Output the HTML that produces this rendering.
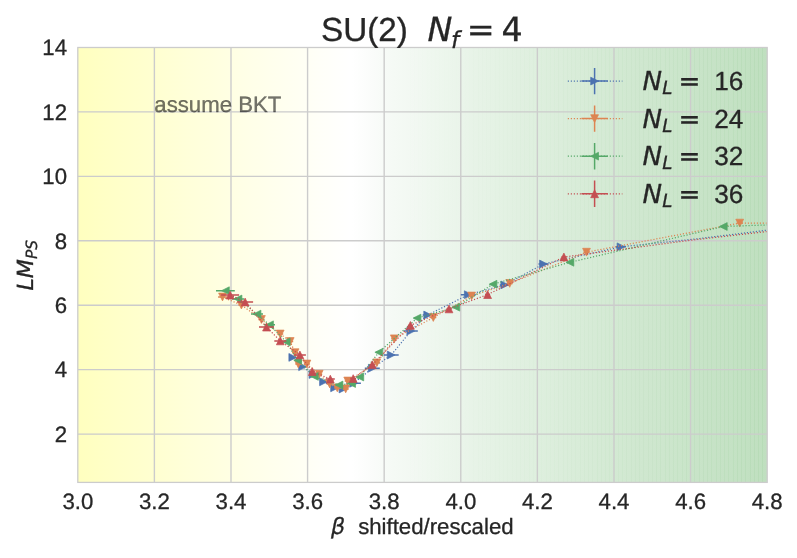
<!DOCTYPE html>
<html lang="en"><head><meta charset="utf-8"><title>SU(2) Nf=4</title>
<style>html,body{margin:0;padding:0;background:#fff}body{width:797px;height:558px;overflow:hidden}svg{display:block;text-rendering:geometricPrecision;will-change:transform}text{stroke:#262626;stroke-width:.3px}.a{font-family:"Liberation Sans",Arial,sans-serif;fill:#262626}.m{font-family:"DejaVu Sans",sans-serif;fill:#262626}.i{font-family:"DejaVu Sans",sans-serif;font-style:italic;fill:#262626}</style></head><body>
<svg width="797" height="558" viewBox="0 0 797 558">
<defs>
<linearGradient id="bg" x1="0" y1="0" x2="1" y2="0"><stop offset="0.00%" stop-color="#ffffbf"/><stop offset="3.95%" stop-color="#ffffc6"/><stop offset="7.90%" stop-color="#ffffcc"/><stop offset="11.85%" stop-color="#ffffd2"/><stop offset="15.79%" stop-color="#ffffd9"/><stop offset="19.74%" stop-color="#ffffdf"/><stop offset="23.69%" stop-color="#ffffe6"/><stop offset="27.64%" stop-color="#ffffec"/><stop offset="31.59%" stop-color="#fffff2"/><stop offset="35.54%" stop-color="#fffff9"/><stop offset="39.49%" stop-color="#ffffff"/><stop offset="39.78%" stop-color="#ffffff"/><stop offset="42.79%" stop-color="#fafcfa"/><stop offset="45.80%" stop-color="#f5faf5"/><stop offset="48.81%" stop-color="#f2f8f2"/><stop offset="51.82%" stop-color="#eef7ee"/><stop offset="54.83%" stop-color="#ebf5eb"/><stop offset="57.84%" stop-color="#e7f3e7"/><stop offset="60.85%" stop-color="#e4f2e4"/><stop offset="63.87%" stop-color="#e1f0e1"/><stop offset="66.88%" stop-color="#deefde"/><stop offset="69.89%" stop-color="#dbeddb"/><stop offset="72.90%" stop-color="#d8ecd8"/><stop offset="75.91%" stop-color="#d5ead5"/><stop offset="78.92%" stop-color="#d2e9d2"/><stop offset="81.93%" stop-color="#cfe7cf"/><stop offset="84.94%" stop-color="#cde6cd"/><stop offset="87.96%" stop-color="#cae5ca"/><stop offset="90.97%" stop-color="#c7e3c7"/><stop offset="93.98%" stop-color="#c5e2c5"/><stop offset="96.99%" stop-color="#c2e1c2"/><stop offset="100.00%" stop-color="#bfdfbf"/></linearGradient>
<clipPath id="cp"><rect x="77.8" y="47.5" width="689.4" height="434.9"/></clipPath>
</defs>
<rect x="0" y="0" width="797" height="558" fill="#ffffff"/>
<rect x="77.8" y="47.5" width="689.4" height="434.9" fill="url(#bg)"/>
<rect x="762" y="47.5" width="1" height="434.9" fill="#008000" fill-opacity="0.042"/>
<rect x="758" y="47.5" width="1" height="434.9" fill="#008000" fill-opacity="0.041"/>
<rect x="754" y="47.5" width="1" height="434.9" fill="#008000" fill-opacity="0.040"/>
<rect x="750" y="47.5" width="1" height="434.9" fill="#008000" fill-opacity="0.040"/>
<rect x="745" y="47.5" width="1" height="434.9" fill="#008000" fill-opacity="0.039"/>
<rect x="741" y="47.5" width="1" height="434.9" fill="#008000" fill-opacity="0.038"/>
<rect x="737" y="47.5" width="1" height="434.9" fill="#008000" fill-opacity="0.038"/>
<rect x="733" y="47.5" width="1" height="434.9" fill="#008000" fill-opacity="0.037"/>
<rect x="728" y="47.5" width="1" height="434.9" fill="#008000" fill-opacity="0.036"/>
<rect x="724" y="47.5" width="1" height="434.9" fill="#008000" fill-opacity="0.036"/>
<rect x="720" y="47.5" width="1" height="434.9" fill="#008000" fill-opacity="0.035"/>
<rect x="716" y="47.5" width="1" height="434.9" fill="#008000" fill-opacity="0.034"/>
<rect x="711" y="47.5" width="1" height="434.9" fill="#008000" fill-opacity="0.034"/>
<rect x="707" y="47.5" width="1" height="434.9" fill="#008000" fill-opacity="0.033"/>
<rect x="703" y="47.5" width="1" height="434.9" fill="#008000" fill-opacity="0.032"/>
<rect x="699" y="47.5" width="1" height="434.9" fill="#008000" fill-opacity="0.032"/>
<rect x="694" y="47.5" width="1" height="434.9" fill="#008000" fill-opacity="0.031"/>
<rect x="690" y="47.5" width="1" height="434.9" fill="#008000" fill-opacity="0.030"/>
<rect x="686" y="47.5" width="1" height="434.9" fill="#008000" fill-opacity="0.030"/>
<rect x="682" y="47.5" width="1" height="434.9" fill="#008000" fill-opacity="0.029"/>
<rect x="677" y="47.5" width="1" height="434.9" fill="#008000" fill-opacity="0.029"/>
<rect x="673" y="47.5" width="1" height="434.9" fill="#008000" fill-opacity="0.028"/>
<rect x="669" y="47.5" width="1" height="434.9" fill="#008000" fill-opacity="0.027"/>
<rect x="665" y="47.5" width="1" height="434.9" fill="#008000" fill-opacity="0.027"/>
<rect x="660" y="47.5" width="1" height="434.9" fill="#008000" fill-opacity="0.026"/>
<rect x="656" y="47.5" width="1" height="434.9" fill="#008000" fill-opacity="0.026"/>
<rect x="652" y="47.5" width="1" height="434.9" fill="#008000" fill-opacity="0.025"/>
<rect x="648" y="47.5" width="1" height="434.9" fill="#008000" fill-opacity="0.024"/>
<rect x="643" y="47.5" width="1" height="434.9" fill="#008000" fill-opacity="0.024"/>
<rect x="639" y="47.5" width="1" height="434.9" fill="#008000" fill-opacity="0.023"/>
<rect x="635" y="47.5" width="1" height="434.9" fill="#008000" fill-opacity="0.023"/>
<rect x="631" y="47.5" width="1" height="434.9" fill="#008000" fill-opacity="0.022"/>
<rect x="626" y="47.5" width="1" height="434.9" fill="#008000" fill-opacity="0.022"/>
<rect x="622" y="47.5" width="1" height="434.9" fill="#008000" fill-opacity="0.021"/>
<rect x="618" y="47.5" width="1" height="434.9" fill="#008000" fill-opacity="0.021"/>
<rect x="614" y="47.5" width="1" height="434.9" fill="#008000" fill-opacity="0.020"/>
<rect x="609" y="47.5" width="1" height="434.9" fill="#008000" fill-opacity="0.019"/>
<rect x="605" y="47.5" width="1" height="434.9" fill="#008000" fill-opacity="0.019"/>
<rect x="601" y="47.5" width="1" height="434.9" fill="#008000" fill-opacity="0.018"/>
<rect x="597" y="47.5" width="1" height="434.9" fill="#008000" fill-opacity="0.018"/>
<rect x="592" y="47.5" width="1" height="434.9" fill="#008000" fill-opacity="0.017"/>
<rect x="588" y="47.5" width="1" height="434.9" fill="#008000" fill-opacity="0.017"/>
<rect x="584" y="47.5" width="1" height="434.9" fill="#008000" fill-opacity="0.016"/>
<rect x="580" y="47.5" width="1" height="434.9" fill="#008000" fill-opacity="0.016"/>
<rect x="575" y="47.5" width="1" height="434.9" fill="#008000" fill-opacity="0.015"/>
<rect x="571" y="47.5" width="1" height="434.9" fill="#008000" fill-opacity="0.015"/>
<rect x="567" y="47.5" width="1" height="434.9" fill="#008000" fill-opacity="0.014"/>
<rect x="563" y="47.5" width="1" height="434.9" fill="#008000" fill-opacity="0.014"/>
<rect x="558" y="47.5" width="1" height="434.9" fill="#008000" fill-opacity="0.014"/>
<rect x="554" y="47.5" width="1" height="434.9" fill="#008000" fill-opacity="0.013"/>
<rect x="550" y="47.5" width="1" height="434.9" fill="#008000" fill-opacity="0.013"/>
<rect x="546" y="47.5" width="1" height="434.9" fill="#008000" fill-opacity="0.012"/>
<rect x="541" y="47.5" width="1" height="434.9" fill="#008000" fill-opacity="0.012"/>
<rect x="537" y="47.5" width="1" height="434.9" fill="#008000" fill-opacity="0.011"/>
<rect x="533" y="47.5" width="1" height="434.9" fill="#008000" fill-opacity="0.011"/>
<rect x="529" y="47.5" width="1" height="434.9" fill="#008000" fill-opacity="0.011"/>
<rect x="524" y="47.5" width="1" height="434.9" fill="#008000" fill-opacity="0.010"/>
<rect x="520" y="47.5" width="1" height="434.9" fill="#008000" fill-opacity="0.010"/>
<rect x="516" y="47.5" width="1" height="434.9" fill="#008000" fill-opacity="0.009"/>
<rect x="512" y="47.5" width="1" height="434.9" fill="#008000" fill-opacity="0.009"/>
<rect x="507" y="47.5" width="1" height="434.9" fill="#008000" fill-opacity="0.009"/>
<rect x="503" y="47.5" width="1" height="434.9" fill="#008000" fill-opacity="0.008"/>
<rect x="499" y="47.5" width="1" height="434.9" fill="#008000" fill-opacity="0.008"/>
<rect x="495" y="47.5" width="1" height="434.9" fill="#008000" fill-opacity="0.007"/>
<rect x="490" y="47.5" width="1" height="434.9" fill="#008000" fill-opacity="0.007"/>
<rect x="486" y="47.5" width="1" height="434.9" fill="#008000" fill-opacity="0.007"/>
<rect x="482" y="47.5" width="1" height="434.9" fill="#008000" fill-opacity="0.006"/>
<rect x="478" y="47.5" width="1" height="434.9" fill="#008000" fill-opacity="0.006"/>
<rect x="473" y="47.5" width="1" height="434.9" fill="#008000" fill-opacity="0.006"/>
<rect x="469" y="47.5" width="1" height="434.9" fill="#008000" fill-opacity="0.005"/>
<rect x="465" y="47.5" width="1" height="434.9" fill="#008000" fill-opacity="0.005"/>
<rect x="461" y="47.5" width="1" height="434.9" fill="#008000" fill-opacity="0.005"/>
<rect x="456" y="47.5" width="1" height="434.9" fill="#008000" fill-opacity="0.004"/>
<rect x="452" y="47.5" width="1" height="434.9" fill="#008000" fill-opacity="0.004"/>
<rect x="448" y="47.5" width="1" height="434.9" fill="#008000" fill-opacity="0.004"/>
<rect x="444" y="47.5" width="1" height="434.9" fill="#008000" fill-opacity="0.004"/>
<rect x="439" y="47.5" width="1" height="434.9" fill="#008000" fill-opacity="0.003"/>
<rect x="435" y="47.5" width="1" height="434.9" fill="#008000" fill-opacity="0.003"/>
<rect x="431" y="47.5" width="1" height="434.9" fill="#008000" fill-opacity="0.003"/>
<rect x="427" y="47.5" width="1" height="434.9" fill="#008000" fill-opacity="0.003"/>
<rect x="422" y="47.5" width="1" height="434.9" fill="#008000" fill-opacity="0.002"/>
<rect x="418" y="47.5" width="1" height="434.9" fill="#008000" fill-opacity="0.002"/>
<rect x="414" y="47.5" width="1" height="434.9" fill="#008000" fill-opacity="0.002"/>
<rect x="410" y="47.5" width="1" height="434.9" fill="#008000" fill-opacity="0.002"/>
<rect x="405" y="47.5" width="1" height="434.9" fill="#008000" fill-opacity="0.001"/>
<rect x="401" y="47.5" width="1" height="434.9" fill="#008000" fill-opacity="0.001"/>
<rect x="397" y="47.5" width="1" height="434.9" fill="#008000" fill-opacity="0.001"/>
<rect x="393" y="47.5" width="1" height="434.9" fill="#008000" fill-opacity="0.001"/>
<rect x="388" y="47.5" width="1" height="434.9" fill="#008000" fill-opacity="0.001"/>
<rect x="384" y="47.5" width="1" height="434.9" fill="#008000" fill-opacity="0.001"/>
<rect x="380" y="47.5" width="1" height="434.9" fill="#008000" fill-opacity="0.001"/>
<rect x="376" y="47.5" width="1" height="434.9" fill="#008000" fill-opacity="0.000"/>
<rect x="371" y="47.5" width="1" height="434.9" fill="#008000" fill-opacity="0.000"/>
<rect x="367" y="47.5" width="1" height="434.9" fill="#008000" fill-opacity="0.000"/>
<rect x="363" y="47.5" width="1" height="434.9" fill="#008000" fill-opacity="0.000"/>
<path d="M154.39 47.5V482.4M230.99 47.5V482.4M307.58 47.5V482.4M384.18 47.5V482.4M460.77 47.5V482.4M537.37 47.5V482.4M613.96 47.5V482.4M690.56 47.5V482.4M77.8 434.07H767.1M77.8 369.64H767.1M77.8 305.20H767.1M77.8 240.76H767.1M77.8 176.32H767.1M77.8 111.89H767.1" stroke="#cccccc" stroke-width="1.39" fill="none"/>
<text class="a" x="154.3" y="111.6" font-size="22.2" style="fill:#000;fill-opacity:.55;stroke:#000;stroke-opacity:.55">assume BKT</text>
<g clip-path="url(#cp)">
<path d="M292.8 357.4 L302.6 366.7 L313.0 374.5 L323.5 381.8 L334.6 387.8 L343.0 389.0 L353.6 383.3 L372.3 368.2 L391.2 355.0 L410.8 331.1 L427.7 315.0 L468.3 294.7 L504.8 284.9 L543.5 264.0 L621.0 246.8 L700.0 238.5 L767.5 230.1 L800.0 226.3" stroke="#4C72B0" stroke-width="1.25" stroke-dasharray="1.15 1.85" fill="none"/>
<path d="M289.8 357.4H295.8M299.6 366.7H305.6M310.0 374.5H316.0M320.5 381.8H326.5M331.6 387.8H337.6M340.0 389.0H346.0M346.3 383.3H360.9M364.8 368.2H379.8M383.7 355.0H398.7M403.8 331.1H417.8M422.7 315.0H432.7M460.8 294.7H475.8M499.8 284.9H509.8M538.5 264.0H548.5M616.0 246.8H626.0" stroke="#4C72B0" stroke-width="1.5" fill="none"/>
<polygon points="296.7,357.4 288.9,353.5 288.9,361.3" fill="#4C72B0" stroke="#4C72B0" stroke-width="0.7"/>
<polygon points="306.5,366.7 298.7,362.8 298.7,370.6" fill="#4C72B0" stroke="#4C72B0" stroke-width="0.7"/>
<polygon points="316.9,374.5 309.1,370.6 309.1,378.4" fill="#4C72B0" stroke="#4C72B0" stroke-width="0.7"/>
<polygon points="327.4,381.8 319.6,377.9 319.6,385.7" fill="#4C72B0" stroke="#4C72B0" stroke-width="0.7"/>
<polygon points="338.5,387.8 330.7,383.9 330.7,391.7" fill="#4C72B0" stroke="#4C72B0" stroke-width="0.7"/>
<polygon points="346.9,389.0 339.1,385.1 339.1,392.9" fill="#4C72B0" stroke="#4C72B0" stroke-width="0.7"/>
<polygon points="357.5,383.3 349.7,379.4 349.7,387.2" fill="#4C72B0" stroke="#4C72B0" stroke-width="0.7"/>
<polygon points="376.2,368.2 368.4,364.3 368.4,372.1" fill="#4C72B0" stroke="#4C72B0" stroke-width="0.7"/>
<polygon points="395.1,355.0 387.3,351.1 387.3,358.9" fill="#4C72B0" stroke="#4C72B0" stroke-width="0.7"/>
<polygon points="414.7,331.1 406.9,327.2 406.9,335.0" fill="#4C72B0" stroke="#4C72B0" stroke-width="0.7"/>
<polygon points="431.6,315.0 423.8,311.1 423.8,318.9" fill="#4C72B0" stroke="#4C72B0" stroke-width="0.7"/>
<polygon points="472.2,294.7 464.4,290.8 464.4,298.6" fill="#4C72B0" stroke="#4C72B0" stroke-width="0.7"/>
<polygon points="508.7,284.9 500.9,281.0 500.9,288.8" fill="#4C72B0" stroke="#4C72B0" stroke-width="0.7"/>
<polygon points="547.4,264.0 539.6,260.1 539.6,267.9" fill="#4C72B0" stroke="#4C72B0" stroke-width="0.7"/>
<polygon points="624.9,246.8 617.1,242.9 617.1,250.7" fill="#4C72B0" stroke="#4C72B0" stroke-width="0.7"/>
<path d="M222.5 297.0 L241.4 305.1 L261.4 319.5 L280.2 334.0 L290.2 341.5 L295.1 352.7 L298.3 364.0 L306.9 364.0 L319.2 374.2 L329.7 384.0 L337.3 387.9 L345.7 388.9 L347.7 381.0 L376.8 362.8 L394.3 338.8 L433.3 317.5 L471.6 296.0 L509.7 283.4 L586.5 252.2 L739.7 223.1 L767.5 223.1 L800.0 223.2" stroke="#DD8452" stroke-width="1.25" stroke-dasharray="1.15 1.85" fill="none"/>
<path d="M218.1 297.0H226.9M238.4 305.1H244.4M258.4 319.5H264.4M277.2 334.0H283.2M287.2 341.5H293.2M292.1 352.7H298.1M295.3 364.0H301.3M303.9 364.0H309.9M316.2 374.2H322.2M326.7 384.0H332.7M334.3 387.9H340.3M342.7 388.9H348.7M344.7 381.0H350.7M373.8 362.8H379.8M391.3 338.8H397.3M430.3 317.5H436.3M468.6 296.0H474.6M506.7 283.4H512.7M583.5 252.2H589.5M736.7 223.1H742.7" stroke="#DD8452" stroke-width="1.5" fill="none"/>
<polygon points="222.5,300.9 218.6,293.1 226.4,293.1" fill="#DD8452" stroke="#DD8452" stroke-width="0.7"/>
<polygon points="241.4,309.0 237.5,301.2 245.3,301.2" fill="#DD8452" stroke="#DD8452" stroke-width="0.7"/>
<polygon points="261.4,323.4 257.5,315.6 265.3,315.6" fill="#DD8452" stroke="#DD8452" stroke-width="0.7"/>
<polygon points="280.2,337.9 276.3,330.1 284.1,330.1" fill="#DD8452" stroke="#DD8452" stroke-width="0.7"/>
<polygon points="290.2,345.4 286.3,337.6 294.1,337.6" fill="#DD8452" stroke="#DD8452" stroke-width="0.7"/>
<polygon points="295.1,356.6 291.2,348.8 299.0,348.8" fill="#DD8452" stroke="#DD8452" stroke-width="0.7"/>
<polygon points="298.3,367.9 294.4,360.1 302.2,360.1" fill="#DD8452" stroke="#DD8452" stroke-width="0.7"/>
<polygon points="306.9,367.9 303.0,360.1 310.8,360.1" fill="#DD8452" stroke="#DD8452" stroke-width="0.7"/>
<polygon points="319.2,378.1 315.3,370.3 323.1,370.3" fill="#DD8452" stroke="#DD8452" stroke-width="0.7"/>
<polygon points="329.7,387.9 325.8,380.1 333.6,380.1" fill="#DD8452" stroke="#DD8452" stroke-width="0.7"/>
<polygon points="337.3,391.8 333.4,384.0 341.2,384.0" fill="#DD8452" stroke="#DD8452" stroke-width="0.7"/>
<polygon points="345.7,392.8 341.8,385.0 349.6,385.0" fill="#DD8452" stroke="#DD8452" stroke-width="0.7"/>
<polygon points="347.7,384.9 343.8,377.1 351.6,377.1" fill="#DD8452" stroke="#DD8452" stroke-width="0.7"/>
<polygon points="376.8,366.7 372.9,358.9 380.7,358.9" fill="#DD8452" stroke="#DD8452" stroke-width="0.7"/>
<polygon points="394.3,342.7 390.4,334.9 398.2,334.9" fill="#DD8452" stroke="#DD8452" stroke-width="0.7"/>
<polygon points="433.3,321.4 429.4,313.6 437.2,313.6" fill="#DD8452" stroke="#DD8452" stroke-width="0.7"/>
<polygon points="471.6,299.9 467.7,292.1 475.5,292.1" fill="#DD8452" stroke="#DD8452" stroke-width="0.7"/>
<polygon points="509.7,287.3 505.8,279.5 513.6,279.5" fill="#DD8452" stroke="#DD8452" stroke-width="0.7"/>
<polygon points="586.5,256.1 582.6,248.3 590.4,248.3" fill="#DD8452" stroke="#DD8452" stroke-width="0.7"/>
<polygon points="739.7,227.0 735.8,219.2 743.6,219.2" fill="#DD8452" stroke="#DD8452" stroke-width="0.7"/>
<path d="M225.4 290.7 L238.0 299.0 L257.0 314.1 L269.5 324.8 L286.2 341.8 L297.7 360.3 L314.4 376.4 L339.0 385.0 L351.6 383.5 L359.8 377.0 L378.8 352.3 L417.0 318.1 L455.8 307.2 L493.0 284.2 L569.9 262.3 L723.3 226.5 L767.5 224.9 L800.0 224.0" stroke="#55A868" stroke-width="1.25" stroke-dasharray="1.15 1.85" fill="none"/>
<path d="M216.0 290.7H234.8M232.0 299.0H244.0M251.0 314.1H263.0M264.0 324.8H275.0M283.2 341.8H289.2M294.7 360.3H300.7M311.4 376.4H317.4M336.0 385.0H342.0M348.6 383.5H354.6M356.8 377.0H362.8M375.8 352.3H381.8M414.0 318.1H420.0M452.8 307.2H458.8M490.0 284.2H496.0M566.9 262.3H572.9M720.3 226.5H726.3" stroke="#55A868" stroke-width="1.5" fill="none"/>
<polygon points="221.5,290.7 229.3,286.8 229.3,294.6" fill="#55A868" stroke="#55A868" stroke-width="0.7"/>
<polygon points="234.1,299.0 241.9,295.1 241.9,302.9" fill="#55A868" stroke="#55A868" stroke-width="0.7"/>
<polygon points="253.1,314.1 260.9,310.2 260.9,318.0" fill="#55A868" stroke="#55A868" stroke-width="0.7"/>
<polygon points="265.6,324.8 273.4,320.9 273.4,328.7" fill="#55A868" stroke="#55A868" stroke-width="0.7"/>
<polygon points="282.3,341.8 290.1,337.9 290.1,345.7" fill="#55A868" stroke="#55A868" stroke-width="0.7"/>
<polygon points="293.8,360.3 301.6,356.4 301.6,364.2" fill="#55A868" stroke="#55A868" stroke-width="0.7"/>
<polygon points="310.5,376.4 318.3,372.5 318.3,380.3" fill="#55A868" stroke="#55A868" stroke-width="0.7"/>
<polygon points="335.1,385.0 342.9,381.1 342.9,388.9" fill="#55A868" stroke="#55A868" stroke-width="0.7"/>
<polygon points="347.7,383.5 355.5,379.6 355.5,387.4" fill="#55A868" stroke="#55A868" stroke-width="0.7"/>
<polygon points="355.9,377.0 363.7,373.1 363.7,380.9" fill="#55A868" stroke="#55A868" stroke-width="0.7"/>
<polygon points="374.9,352.3 382.7,348.4 382.7,356.2" fill="#55A868" stroke="#55A868" stroke-width="0.7"/>
<polygon points="413.1,318.1 420.9,314.2 420.9,322.0" fill="#55A868" stroke="#55A868" stroke-width="0.7"/>
<polygon points="451.9,307.2 459.7,303.3 459.7,311.1" fill="#55A868" stroke="#55A868" stroke-width="0.7"/>
<polygon points="489.1,284.2 496.9,280.3 496.9,288.1" fill="#55A868" stroke="#55A868" stroke-width="0.7"/>
<polygon points="566.0,262.3 573.8,258.4 573.8,266.2" fill="#55A868" stroke="#55A868" stroke-width="0.7"/>
<polygon points="719.4,226.5 727.2,222.6 727.2,230.4" fill="#55A868" stroke="#55A868" stroke-width="0.7"/>
<path d="M230.1 295.1 L245.1 302.0 L266.5 327.1 L280.3 340.9 L299.9 354.9 L312.3 371.6 L330.3 379.1 M353.2 378.6 L372.3 364.7 L410.4 325.4 L449.0 308.9 L487.6 294.6 L563.9 257.0 L650.0 245.6 L690.0 240.3 L767.5 231.5 L800.0 228.0" stroke="#C44E52" stroke-width="1.25" stroke-dasharray="1.15 1.85" fill="none"/>
<path d="M221.1 295.1H239.1M237.1 302.0H253.1M259.0 327.1H274.0M274.3 340.9H286.3M293.9 354.9H305.9M309.8 371.6H314.8M325.8 379.1H334.8M350.2 378.6H356.2M369.8 364.7H374.8M407.9 325.4H412.9M446.5 308.9H451.5M485.1 294.6H490.1M561.4 257.0H566.4" stroke="#C44E52" stroke-width="1.5" fill="none"/>
<polygon points="230.1,291.2 226.2,299.0 234.0,299.0" fill="#C44E52" stroke="#C44E52" stroke-width="0.7"/>
<polygon points="245.1,298.1 241.2,305.9 249.0,305.9" fill="#C44E52" stroke="#C44E52" stroke-width="0.7"/>
<polygon points="266.5,323.2 262.6,331.0 270.4,331.0" fill="#C44E52" stroke="#C44E52" stroke-width="0.7"/>
<polygon points="280.3,337.0 276.4,344.8 284.2,344.8" fill="#C44E52" stroke="#C44E52" stroke-width="0.7"/>
<polygon points="299.9,351.0 296.0,358.8 303.8,358.8" fill="#C44E52" stroke="#C44E52" stroke-width="0.7"/>
<polygon points="312.3,367.7 308.4,375.5 316.2,375.5" fill="#C44E52" stroke="#C44E52" stroke-width="0.7"/>
<polygon points="330.3,375.2 326.4,383.0 334.2,383.0" fill="#C44E52" stroke="#C44E52" stroke-width="0.7"/>
<polygon points="353.2,374.7 349.3,382.5 357.1,382.5" fill="#C44E52" stroke="#C44E52" stroke-width="0.7"/>
<polygon points="372.3,360.8 368.4,368.6 376.2,368.6" fill="#C44E52" stroke="#C44E52" stroke-width="0.7"/>
<polygon points="410.4,321.5 406.5,329.3 414.3,329.3" fill="#C44E52" stroke="#C44E52" stroke-width="0.7"/>
<polygon points="449.0,305.0 445.1,312.8 452.9,312.8" fill="#C44E52" stroke="#C44E52" stroke-width="0.7"/>
<polygon points="487.6,290.7 483.7,298.5 491.5,298.5" fill="#C44E52" stroke="#C44E52" stroke-width="0.7"/>
<polygon points="563.9,253.1 560.0,260.9 567.8,260.9" fill="#C44E52" stroke="#C44E52" stroke-width="0.7"/>
</g>
<rect x="77.8" y="47.5" width="689.4" height="434.9" fill="none" stroke="#cccccc" stroke-width="1.3"/>
<text class="a" x="77.8" y="509.1" font-size="22.2" text-anchor="middle">3.0</text>
<text class="a" x="154.4" y="509.1" font-size="22.2" text-anchor="middle">3.2</text>
<text class="a" x="231.0" y="509.1" font-size="22.2" text-anchor="middle">3.4</text>
<text class="a" x="307.6" y="509.1" font-size="22.2" text-anchor="middle">3.6</text>
<text class="a" x="384.2" y="509.1" font-size="22.2" text-anchor="middle">3.8</text>
<text class="a" x="460.8" y="509.1" font-size="22.2" text-anchor="middle">4.0</text>
<text class="a" x="537.4" y="509.1" font-size="22.2" text-anchor="middle">4.2</text>
<text class="a" x="614.0" y="509.1" font-size="22.2" text-anchor="middle">4.4</text>
<text class="a" x="690.6" y="509.1" font-size="22.2" text-anchor="middle">4.6</text>
<text class="a" x="767.1" y="509.1" font-size="22.2" text-anchor="middle">4.8</text>
<text class="a" x="67.0" y="441.9" font-size="22.2" text-anchor="end">2</text>
<text class="a" x="67.0" y="377.4" font-size="22.2" text-anchor="end">4</text>
<text class="a" x="67.0" y="313.0" font-size="22.2" text-anchor="end">6</text>
<text class="a" x="67.0" y="248.6" font-size="22.2" text-anchor="end">8</text>
<text class="a" x="67.0" y="184.1" font-size="22.2" text-anchor="end">10</text>
<text class="a" x="67.0" y="119.7" font-size="22.2" text-anchor="end">12</text>
<text class="a" x="67.0" y="55.2" font-size="22.2" text-anchor="end">14</text>
<text class="a" x="321" y="41" font-size="33.3">SU(2)</text>
<text y="41" font-size="33.3"><tspan class="i" x="427.5">N</tspan><tspan class="i" font-size="23.3" x="451" dy="6.5">f</tspan><tspan class="m" dy="-6.5" x="466.8">=</tspan><tspan class="m" x="501.4">4</tspan></text>
<text x="331" y="534" font-size="22.2"><tspan class="i">β</tspan><tspan class="a" dx="13">shifted/rescaled</tspan></text>
<text transform="translate(33.2,290.5) rotate(-90)" font-size="22.2"><tspan class="i">LM</tspan><tspan class="i" font-size="15.5" dy="3.5">PS</tspan></text>
<path d="M567.8 81.1H622.4" stroke="#4C72B0" stroke-width="1.25" stroke-dasharray="1.15 1.85" fill="none"/>
<path d="M581.4 81.1H607.8M594.6 67.9V94.3" stroke="#4C72B0" stroke-width="1.5" fill="none"/>
<polygon points="598.5,81.1 590.7,77.2 590.7,85.0" fill="#4C72B0" stroke="#4C72B0" stroke-width="0.7"/>
<text x="642.6" y="90.2" font-size="26.2"><tspan class="i">N</tspan><tspan class="i" font-size="18.3" dy="3.8">L</tspan><tspan class="m" dy="-3.8" x="678.6">=</tspan><tspan class="a" x="714.2">16</tspan></text>
<path d="M567.8 118.6H622.4" stroke="#DD8452" stroke-width="1.25" stroke-dasharray="1.15 1.85" fill="none"/>
<path d="M581.4 118.6H607.8M594.6 105.4V131.8" stroke="#DD8452" stroke-width="1.5" fill="none"/>
<polygon points="594.6,122.5 590.7,114.7 598.5,114.7" fill="#DD8452" stroke="#DD8452" stroke-width="0.7"/>
<text x="642.6" y="127.8" font-size="26.2"><tspan class="i">N</tspan><tspan class="i" font-size="18.3" dy="3.8">L</tspan><tspan class="m" dy="-3.8" x="678.6">=</tspan><tspan class="a" x="714.2">24</tspan></text>
<path d="M567.8 156.2H622.4" stroke="#55A868" stroke-width="1.25" stroke-dasharray="1.15 1.85" fill="none"/>
<path d="M581.4 156.2H607.8M594.6 143.0V169.4" stroke="#55A868" stroke-width="1.5" fill="none"/>
<polygon points="590.7,156.2 598.5,152.3 598.5,160.1" fill="#55A868" stroke="#55A868" stroke-width="0.7"/>
<text x="642.6" y="165.3" font-size="26.2"><tspan class="i">N</tspan><tspan class="i" font-size="18.3" dy="3.8">L</tspan><tspan class="m" dy="-3.8" x="678.6">=</tspan><tspan class="a" x="714.2">32</tspan></text>
<path d="M567.8 193.8H622.4" stroke="#C44E52" stroke-width="1.25" stroke-dasharray="1.15 1.85" fill="none"/>
<path d="M581.4 193.8H607.8M594.6 180.6V206.9" stroke="#C44E52" stroke-width="1.5" fill="none"/>
<polygon points="594.6,189.8 590.7,197.7 598.5,197.7" fill="#C44E52" stroke="#C44E52" stroke-width="0.7"/>
<text x="642.6" y="202.8" font-size="26.2"><tspan class="i">N</tspan><tspan class="i" font-size="18.3" dy="3.8">L</tspan><tspan class="m" dy="-3.8" x="678.6">=</tspan><tspan class="a" x="714.2">36</tspan></text>
</svg></body></html>
